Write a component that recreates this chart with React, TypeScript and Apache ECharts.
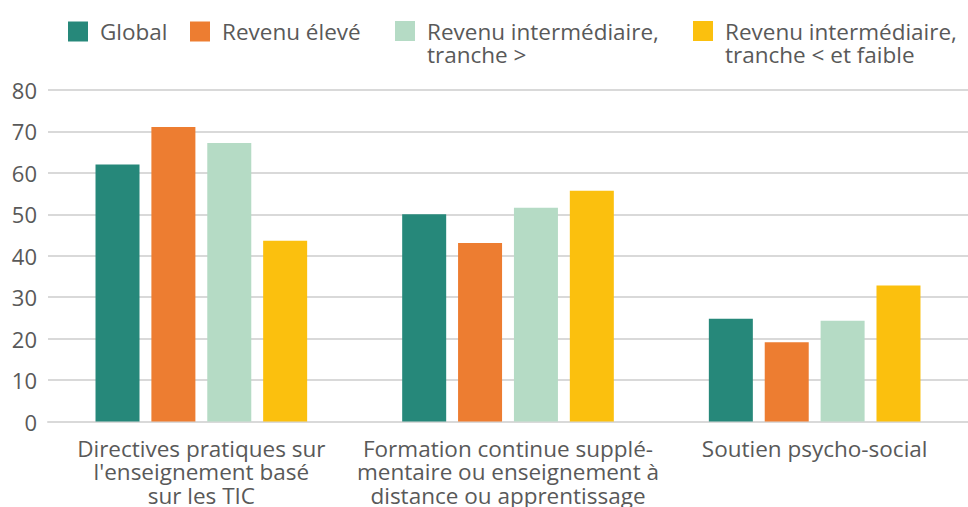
import React, { useEffect, useRef } from "react";
import * as echarts from "echarts";

const categories = [
  "Directives pratiques sur\nl'enseignement basé\nsur les TIC",
  "Formation continue supplé-\nmentaire ou enseignement à\ndistance ou apprentissage",
  "Soutien psycho-social",
];
const seriesNames = [
  "Global",
  "Revenu élevé",
  "Revenu intermédiaire,\ntranche >",
  "Revenu intermédiaire,\ntranche < et faible",
];
const globalValues = [62, 50, 24.8];
const highIncome = [71.1, 43.1, 19.1];
const upperMiddle = [67.2, 51.6, 24.3];
const lowerAndLow = [43.6, 55.7, 32.8];
const yTicks = [0, 10, 20, 30, 40, 50, 60, 70, 80];

const colors = ["#26887A", "#ED7D31", "#B5DBC5", "#FBC00E"];
const legendLeft = [68, 190, 395, 693];
const FONT = "'Open Sans', 'Noto Sans', sans-serif";
const TEXT = "#595959";

export default function App() {
  const ref = useRef<HTMLDivElement>(null);
  useEffect(() => {
    if (!ref.current) return;
    const chart = echarts.init(ref.current, null, { renderer: "svg" });
    const values = [globalValues, highIncome, upperMiddle, lowerAndLow];
    const legends = seriesNames.map((name, i) => {
      const multi = name.includes("\n");
      return {
        show: true,
        selectedMode: false,
        left: legendLeft[i],
        top: multi ? -3.5 : 20,
        padding: 0,
        itemWidth: 20,
        itemHeight: 20,
        icon: "rect",
        formatter: multi ? "\n{name}" : "{name}",
        data: [
          {
            name,
            textStyle: {
              fontFamily: FONT,
              fontSize: 22.5,
              color: TEXT,
              lineHeight: 23,
              padding: [0, 0, 0, 7],
            },
          },
        ],
      };
    });
    chart.setOption({
      animation: false,
      color: colors,
      legend: legends,
      grid: { left: 48, right: -6, top: 90, bottom: 85, containLabel: false },
      xAxis: {
        type: "category",
        data: categories,
        axisTick: { show: false },
        axisLine: { show: true, lineStyle: { color: "#d9d9d9", width: 2 } },
        axisLabel: {
          interval: 0,
          margin: 15,
          fontFamily: FONT,
          fontSize: 22.5,
          lineHeight: 23.5,
          color: TEXT,
          align: "center",
        },
      },
      yAxis: {
        type: "value",
        min: yTicks[0],
        max: yTicks[yTicks.length - 1],
        interval: 10,
        axisLine: { show: false },
        axisTick: { show: false },
        splitLine: { lineStyle: { color: "#d9d9d9", width: 2 } },
        axisLabel: {
          margin: 11,
          fontFamily: FONT,
          fontSize: 22,
          color: TEXT,
        },
      },
      series: seriesNames.map((name, i) => ({
        name,
        type: "bar",
        data: values[i],
        barWidth: 44,
        barGap: "27%",
        itemStyle: { color: colors[i] },
      })),
    });
    return () => chart.dispose();
  }, []);
  return (
    <div
      ref={ref}
      style={{ position: "absolute", left: 0, top: 0, width: 968, height: 507 }}
    />
  );
}
